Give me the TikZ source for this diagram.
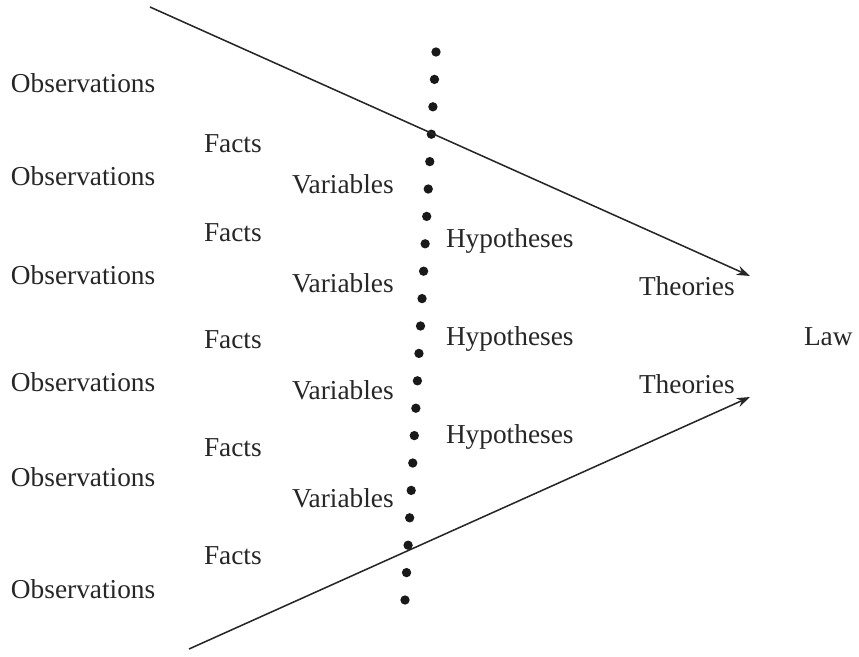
\documentclass[tikz,border=0pt]{standalone}
\usepackage{fontspec}
\setmainfont{Liberation Serif}
\usetikzlibrary{arrows.meta}
\begin{document}
\begin{tikzpicture}[x=0.75pt,y=-0.75pt,
  lbl/.style={anchor=base west,inner sep=0pt,outer sep=0pt,text=black!85,font=\fontsize{20.5}{24}\selectfont},
  arrowline/.style={draw=black!85,line width=1.15pt,-{Stealth[length=10pt,width=7pt]}},
  dotmark/.style={circle,fill=black!90,inner sep=0pt,minimum size=7pt}]
\useasboundingbox (0,0) rectangle (859,656);
% labels
\node[lbl] (o1) at (11,93) {Observations};
\node[lbl] (o2) at (11,185) {Observations};
\node[lbl] (o3) at (11,284) {Observations};
\node[lbl] (o4) at (11,391) {Observations};
\node[lbl] (o5) at (11,486) {Observations};
\node[lbl] (o6) at (11,598) {Observations};
\node[lbl] (f1) at (204,152) {Facts};
\node[lbl] (f2) at (204,241) {Facts};
\node[lbl] (f3) at (204,348) {Facts};
\node[lbl] (f4) at (204,456) {Facts};
\node[lbl] (f5) at (204,564) {Facts};
\node[lbl] (v1) at (292,193) {Variables};
\node[lbl] (v2) at (292,292) {Variables};
\node[lbl] (v3) at (292,399) {Variables};
\node[lbl] (v4) at (292,507) {Variables};
\node[lbl] (h1) at (446,247) {Hypotheses};
\node[lbl] (h2) at (446,345) {Hypotheses};
\node[lbl] (h3) at (446,443) {Hypotheses};
\node[lbl] (t1) at (639,295) {Theories};
\node[lbl] (t2) at (639,393) {Theories};
\node[lbl] (law) at (804,345) {Law};
% dotted divider
\foreach \i in {0,...,20} {
  \node[dotmark] (d\i) at ({436-31*\i/20},{52+548*\i/20}) {};
}
% converging arrows
\coordinate (s1) at (150,7);
\coordinate (e1) at (750,276);
\coordinate (s2) at (189,649);
\coordinate (e2) at (750,397);
\draw[arrowline] (s1) -- (e1);
\draw[arrowline] (s2) -- (e2);
\end{tikzpicture}
\end{document}
